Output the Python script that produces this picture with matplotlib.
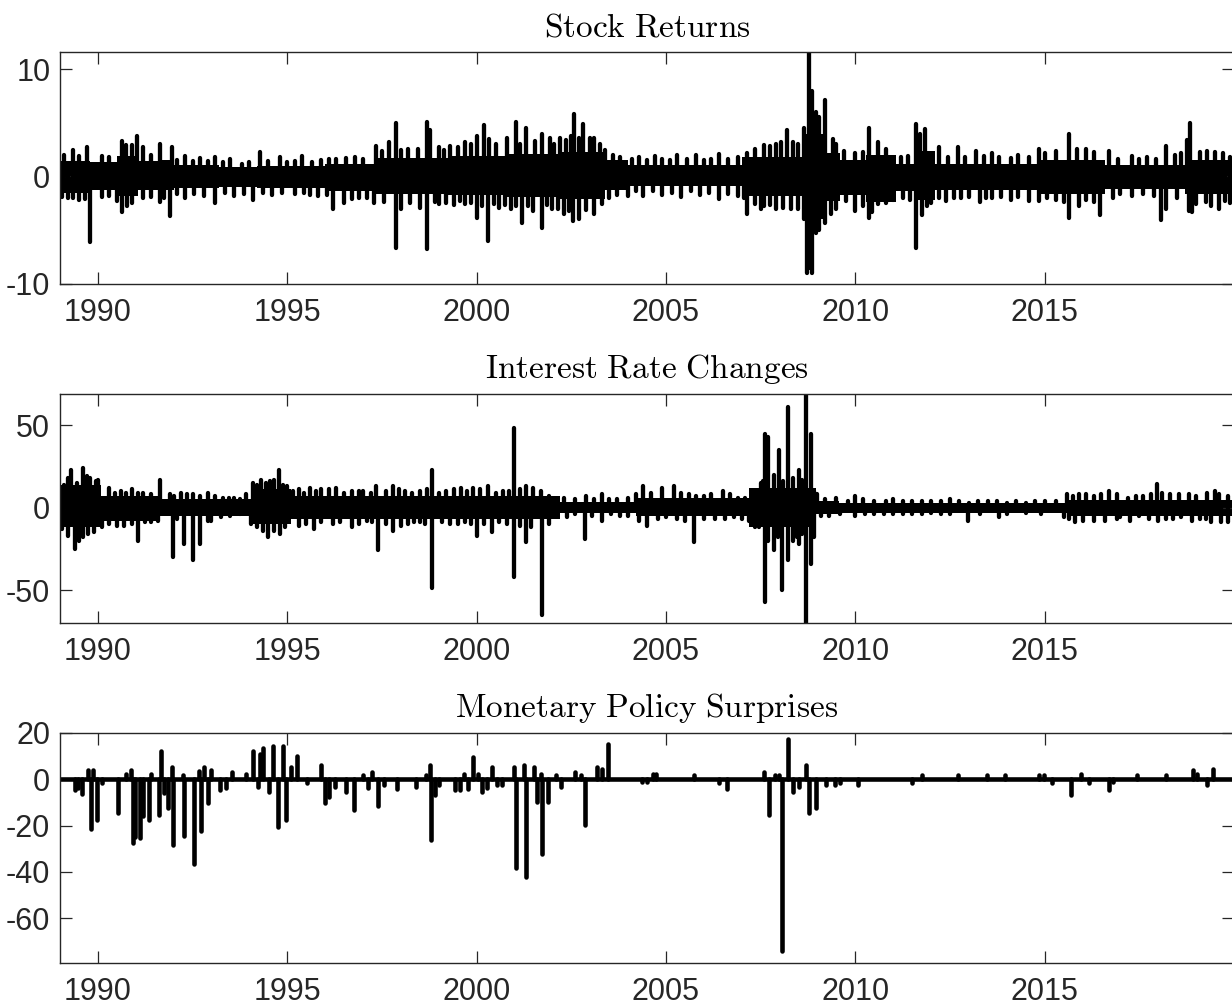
import numpy as np
import matplotlib.pyplot as plt

plt.rcParams['font.family'] = ['Liberation Sans', 'DejaVu Sans']
plt.rcParams['mathtext.fontset'] = 'cm'

# ---- Stock returns (daily, %)
# solid core of the series, piecewise by period (start year, upper, lower)
sr_seg_x = [1989.0, 1989.8, 1990.5, 1991.05, 1991.6, 1992.0, 1993.2, 1994.2, 1996.0, 1997.3,
            1999.25, 2000.75, 2002.2, 2003.4, 2004.0, 2007.0, 2008.6, 2009.2, 2009.6, 2010.27,
            2011.07, 2011.6, 2012.1, 2014.8, 2016.6, 2018.7]
sr_seg_hi = [1.4, 1.3, 1.9, 1.4, 1.5, 1.1, 0.9, 1.0, 1.2, 1.7,
             1.9, 2.1, 2.3, 1.5, 1.1, 1.8, 4.0, 2.2, 1.5, 2.0,
             1.2, 2.4, 1.2, 1.5, 1.1, 1.5]
sr_seg_lo = [-1.5, -1.3, -1.8, -1.3, -1.3, -1.1, -1.0, -1.1, -1.4, -1.6,
             -1.7, -1.9, -2.1, -1.3, -0.9, -1.8, -4.0, -2.3, -1.7, -2.4,
             -1.4, -2.2, -1.3, -1.6, -1.2, -1.6]

# visible excursions above / below the core
sr_up_x = [1989.1, 1989.35, 1989.7, 1990.1, 1990.64, 1990.9, 1991.04, 1991.2, 1991.65, 1991.96,
           1992.3, 1992.7, 1993.1, 1993.5, 1994.27, 1994.8, 1995.4, 1995.9, 1996.3, 1996.8,
           1997.35, 1997.7, 1997.86, 1998.2, 1998.7, 1998.77, 1999.0, 1999.3, 1999.7, 2000.0,
           2000.2, 2000.33, 2000.8, 2001.03, 2001.3, 2001.73, 2001.95, 2002.2, 2002.5, 2002.58,
           2002.8, 2003.0, 2003.1, 2003.4, 2003.8, 2004.3, 2004.7, 2005.3, 2005.8, 2006.4,
           2006.9, 2007.15, 2007.6, 2007.9, 2008.2, 2008.5, 2008.77, 2008.85, 2008.95, 2009.2,
           2009.4, 2009.5, 2010.0, 2010.35, 2010.6, 2011.6, 2011.7, 2011.85, 2012.2, 2012.7,
           2013.2, 2013.6, 2014.3, 2014.85, 2015.65, 2016.1, 2016.7, 2017.3, 2017.7, 2018.2,
           2018.75, 2018.83, 2019.3, 2019.5, 2019.9,
           1989.5, 1990.3, 1990.75, 1991.4, 1992.1, 1992.5, 1992.9, 1993.3, 1993.8, 1994.0,
           1994.5, 1995.0, 1995.2, 1995.65, 1996.1, 1996.55, 1997.0, 1997.5, 1998.0, 1998.45,
           1999.15, 1999.5, 1999.85, 2000.5, 2001.15, 2001.55, 2002.05, 2002.35, 2002.7, 2003.25,
           2003.6, 2004.1, 2004.5, 2004.9, 2005.1, 2005.55, 2006.0, 2006.2, 2006.65, 2007.35,
           2007.75, 2008.05, 2008.35, 2008.65, 2009.05, 2009.7, 2010.2, 2010.8, 2011.2, 2011.4,
           2012.0, 2012.45, 2012.9, 2013.4, 2013.8, 2014.1, 2014.6, 2015.0, 2015.3, 2015.85,
           2016.3, 2016.95, 2017.5, 2017.95, 2018.45, 2018.6, 2019.1, 2019.7]
sr_up_y = [2.0, 2.5, 2.7, 1.9, 3.3, 2.9, 3.8, 2.7, 3.0, 2.7,
           1.9, 1.7, 1.8, 1.6, 2.3, 1.8, 1.9, 1.5, 1.6, 1.8,
           2.8, 3.2, 5.0, 2.6, 5.1, 4.3, 2.7, 2.8, 3.2, 3.8,
           4.8, 3.5, 3.6, 5.1, 4.5, 4.0, 3.6, 3.6, 3.8, 5.8,
           4.9, 3.6, 3.6, 2.5, 1.8, 1.8, 1.9, 2.0, 2.0, 2.1,
           1.8, 2.2, 2.9, 3.0, 4.3, 3.0, 11.5, 8.0, 6.0, 7.1,
           3.5, 3.0, 2.2, 4.5, 3.2, 4.9, 4.0, 4.4, 2.7, 2.7,
           2.4, 2.2, 2.0, 2.6, 4.0, 2.6, 2.4, 1.9, 1.8, 2.8,
           3.4, 5.0, 2.4, 2.3, 1.8,
           1.9, 1.8, 2.9, 2.0, 1.5, 1.4, 1.4, 1.3, 1.2, 1.3,
           1.4, 1.3, 1.4, 1.3, 1.6, 1.7, 1.6, 2.4, 2.5, 2.6,
           2.5, 2.7, 3.0, 3.0, 3.0, 3.3, 3.0, 3.4, 3.6, 3.0,
           2.0, 1.6, 1.5, 1.6, 1.5, 1.6, 1.5, 1.6, 1.6, 2.6,
           2.8, 3.2, 3.2, 4.5, 5.5, 2.4, 2.3, 2.6, 1.8, 1.9,
           2.0, 1.8, 1.8, 1.9, 1.8, 1.7, 1.8, 2.2, 2.4, 2.6,
           2.3, 1.6, 1.6, 1.6, 2.0, 2.2, 2.3, 2.2]

sr_dn_x = [1989.2, 1989.5, 1989.8, 1990.1, 1990.64, 1990.77, 1991.2, 1991.65, 1991.9, 1992.3,
           1992.8, 1993.1, 1993.6, 1994.1, 1994.6, 1995.2, 1995.8, 1996.2, 1996.5, 1996.9,
           1997.3, 1997.86, 1998.0, 1998.5, 1998.7, 1999.0, 1999.4, 1999.7, 2000.0, 2000.3,
           2000.6, 2000.9, 2001.2, 2001.5, 2001.73, 2002.0, 2002.3, 2002.55, 2002.7, 2003.1,
           2003.5, 2004.0, 2004.4, 2004.9, 2005.4, 2005.9, 2006.4, 2006.9, 2007.15, 2007.5,
           2007.6, 2007.9, 2008.1, 2008.5, 2008.72, 2008.8, 2008.87, 2008.97, 2009.2, 2009.5,
           2010.0, 2010.35, 2010.6, 2011.0, 2011.6, 2011.75, 2012.0, 2012.4, 2012.8, 2013.3,
           2013.6, 2014.1, 2014.6, 2014.85, 2015.65, 2015.9, 2016.46, 2016.8, 2017.3, 2017.9,
           2018.08, 2018.2, 2018.8, 2018.9, 2019.4, 2019.6, 2019.9,
           1989.05, 1989.35, 1989.65, 1990.3, 1990.5, 1990.9, 1991.4, 1991.75, 1992.1, 1992.55,
           1993.35, 1993.85, 1994.35, 1994.85, 1995.45, 1995.6, 1996.05, 1996.7, 1997.1, 1997.55,
           1998.25, 1998.9, 1999.2, 1999.55, 1999.85, 2000.15, 2000.45, 2000.75, 2001.05, 2001.35,
           2001.85, 2002.15, 2002.45, 2002.9, 2003.3, 2003.7, 2004.2, 2004.65, 2005.15, 2005.65,
           2006.15, 2006.65, 2007.05, 2007.35, 2007.75, 2008.3, 2008.65, 2009.05, 2009.35, 2009.75,
           2010.2, 2010.45, 2010.8, 2011.25, 2011.45, 2011.9, 2012.2, 2012.6, 2013.0, 2013.45,
           2013.85, 2014.3, 2015.05, 2015.3, 2015.5, 2016.1, 2016.3, 2017.0, 2017.6, 2018.5,
           2019.0, 2019.25, 2019.75]
sr_dn_y = [-2.0, -2.2, -6.1, -1.9, -3.3, -2.8, -2.0, -2.4, -3.7, -2.0,
           -1.8, -2.5, -1.8, -2.2, -1.7, -1.6, -1.8, -3.0, -2.5, -2.0,
           -2.5, -6.7, -3.0, -2.9, -6.8, -2.6, -2.7, -2.6, -3.9, -6.0,
           -2.9, -3.0, -4.3, -3.2, -4.8, -3.0, -3.5, -4.2, -4.0, -3.5,
           -2.0, -1.8, -1.8, -1.7, -1.9, -1.7, -2.1, -1.8, -3.5, -3.0,
           -2.8, -3.0, -2.9, -3.0, -9.0, -8.5, -9.0, -5.3, -4.3, -3.0,
           -3.2, -3.9, -2.6, -2.2, -6.7, -3.6, -2.5, -2.3, -2.0, -2.4,
           -2.0, -2.2, -2.3, -2.3, -3.9, -2.8, -3.6, -2.0, -1.8, -1.8,
           -4.1, -3.0, -3.2, -3.3, -2.8, -3.0, -2.5,
           -1.9, -2.0, -2.1, -1.8, -2.3, -2.5, -1.9, -2.0, -1.6, -1.6,
           -1.5, -1.6, -1.5, -1.5, -1.5, -1.7, -1.7, -2.1, -2.0, -2.4,
           -2.5, -2.4, -2.5, -2.3, -2.5, -2.8, -2.6, -2.7, -2.8, -2.8,
           -2.7, -3.0, -3.2, -3.1, -2.6, -1.7, -1.4, -1.4, -1.5, -1.4,
           -1.5, -1.6, -2.0, -2.6, -2.7, -3.0, -4.0, -5.0, -3.5, -2.3,
           -2.8, -3.3, -2.5, -2.0, -2.2, -2.8, -2.0, -2.0, -1.9, -2.0,
           -1.9, -1.9, -2.0, -2.2, -2.4, -2.2, -2.4, -1.6, -1.6, -2.0,
           -2.6, -2.4, -2.3]

# ---- Interest rate changes (daily, bp)
ir_seg_x = [1989.0, 1990.08, 1991.6, 1994.05, 1995.1, 2002.2, 2004.2, 2007.2, 2008.95, 2009.57,
            2015.6]
ir_seg_hi = [14, 7, 5, 11, 7, 3.5, 6, 12, 4, 2.5, 4.5]
ir_seg_lo = [-12, -8, -5, -10, -7, -3, -5, -12, -4, -3, -5]

ir_up_x = [1989.1, 1989.3, 1989.45, 1989.6, 1989.8, 1990.0, 1990.3, 1990.6, 1990.9, 1991.2,
           1991.65, 1991.9, 1992.2, 1992.5, 1992.9, 1993.3, 1993.6, 1993.9, 1994.1, 1994.3,
           1994.55, 1994.78, 1995.0, 1995.3, 1995.6, 1995.9, 1996.3, 1996.7, 1997.0, 1997.35,
           1997.8, 1998.1, 1998.5, 1998.82, 1999.2, 1999.6, 1999.9, 2000.3, 2000.7, 2001.0,
           2001.3, 2001.5, 2001.9, 2002.3, 2002.9, 2003.3, 2003.7, 2004.0, 2004.4, 2004.9,
           2005.2, 2005.6, 2006.0, 2006.5, 2006.9, 2007.3, 2007.5, 2007.62, 2007.7, 2007.85,
           2007.99, 2008.21, 2008.35, 2008.51, 2008.71, 2008.82, 2009.0, 2009.5, 2010.0, 2010.5,
           2011.0, 2011.5, 2012.0, 2012.5, 2013.0, 2013.5, 2014.0, 2014.5, 2015.0, 2015.6,
           2015.9, 2016.3, 2016.7, 2017.2, 2017.6, 2017.97, 2018.3, 2018.8, 2019.3, 2019.6,
           2019.85,
           1989.2, 1989.7, 1989.95, 1990.45, 1990.75, 1991.05, 1991.4, 1992.0, 1992.35, 1992.7,
           1993.1, 1993.45, 1993.75, 1994.2, 1994.45, 1994.65, 1994.9, 1995.15, 1995.45, 1995.75,
           1996.1, 1996.5, 1996.9, 1997.2, 1997.6, 1997.95, 1998.3, 1998.7, 1999.0, 1999.4,
           1999.75, 2000.1, 2000.5, 2000.85, 2001.15, 2001.7, 2002.1, 2002.6, 2003.1, 2003.5,
           2004.2, 2004.6, 2005.4, 2005.8, 2006.2, 2006.7, 2007.1, 2007.55, 2008.1, 2008.6,
           2008.9, 2009.2, 2009.8, 2010.2, 2010.8, 2011.25, 2011.75, 2012.25, 2012.75, 2013.25,
           2013.75, 2014.25, 2014.75, 2015.3, 2015.75, 2016.1, 2016.5, 2016.9, 2017.4, 2017.8,
           2018.1, 2018.55, 2019.0, 2019.5]
ir_up_y = [14, 23, 15, 24, 18, 17, 12, 10, 11, 9,
           17, 8, 9, 8, 9, 6, 6, 8, 15, 17,
           16, 23, 13, 11, 12, 11, 12, 10, 10, 13,
           13, 10, 10, 23, 10, 12, 12, 13, 10, 48.5,
           13, 12, 7, 6, 7, 8, 5, 6, 13, 12,
           13, 8, 7, 10, 6, 7, 15, 44.5, 43, 20,
           35, 61, 18, 23, 75, 44.5, 8, 6, 7, 4,
           5, 4, 4, 5, 3, 4, 3, 3, 4, 8,
           8, 7, 10, 6, 7, 14.5, 8, 8, 9, 8,
           7,
           18, 19, 16, 9, 9, 9, 8, 7, 8, 7,
           7, 6, 5, 14, 15, 17, 14, 10, 9, 10,
           11, 9, 10, 9, 10, 11, 9, 11, 9, 11,
           10, 11, 9, 10, 11, 10, 5, 5, 5, 5,
           8, 9, 9, 7, 8, 8, 6, 16, 16, 17,
           10, 5, 4, 5, 4, 4, 4, 4, 4, 4,
           4, 4, 4, 4, 7, 8, 8, 8, 7, 8,
           9, 8, 7, 10]

ir_dn_x = [1989.05, 1989.4, 1989.6, 1989.9, 1990.3, 1990.7, 1991.07, 1991.4, 1991.98, 1992.28,
           1992.5, 1992.7, 1993.0, 1993.5, 1994.2, 1994.5, 1994.8, 1995.3, 1995.7, 1996.2,
           1996.7, 1997.1, 1997.4, 1997.8, 1998.2, 1998.5, 1998.82, 1999.3, 1999.7, 2000.0,
           2000.4, 2000.8, 2001.0, 2001.3, 2001.72, 2001.9, 2002.4, 2002.85, 2003.3, 2003.8,
           2004.5, 2005.0, 2005.73, 2006.3, 2006.8, 2007.2, 2007.45, 2007.62, 2007.85, 2008.07,
           2008.21, 2008.35, 2008.51, 2008.71, 2008.82, 2008.9, 2009.3, 2010.0, 2010.5, 2011.0,
           2011.5, 2012.0, 2012.97, 2013.8, 2014.5, 2015.5, 2015.8, 2016.6, 2017.0, 2017.5,
           2018.2, 2018.6, 2019.1, 2019.4, 2019.85,
           1989.2, 1989.5, 1989.75, 1990.1, 1990.5, 1990.9, 1991.25, 1991.6, 1992.1, 1992.9,
           1993.25, 1993.75, 1994.05, 1994.35, 1994.65, 1994.95, 1995.5, 1995.9, 1996.4, 1996.9,
           1997.25, 1997.6, 1998.0, 1998.35, 1998.65, 1999.1, 1999.5, 1999.85, 2000.2, 2000.6,
           2001.15, 2001.45, 2002.1, 2002.6, 2003.05, 2003.55, 2004.0, 2004.3, 2004.8, 2005.3,
           2005.5, 2006.0, 2006.55, 2007.0, 2007.35, 2007.7, 2007.95, 2008.45, 2008.6, 2009.1,
           2009.6, 2010.25, 2010.75, 2011.25, 2011.75, 2012.25, 2012.5, 2013.3, 2014.0, 2014.9,
           2015.65, 2016.0, 2016.3, 2016.9, 2017.25, 2017.75, 2018.0, 2018.4, 2018.9, 2019.25,
           2019.65]
ir_dn_y = [-13, -25, -18, -15, -10, -11, -20, -9, -30, -22,
           -32, -22, -8, -5, -12, -18, -16, -11, -13, -10,
           -12, -8, -26, -14, -10, -9, -49, -10, -9, -17,
           -15, -10, -42, -21, -65, -10, -6, -19, -8, -5,
           -11, -6, -21, -7, -6, -8, -12, -57.5, -26, -50,
           -32, -20, -22, -75, -34, -18, -5, -5, -4, -4,
           -4, -3, -8, -6, -3, -6, -9, -8, -6, -5,
           -7, -6, -7, -9, -9,
           -17, -20, -16, -12, -11, -10, -9, -8, -7, -8,
           -6, -4, -10, -14, -14, -12, -10, -9, -9, -10,
           -9, -10, -11, -9, -10, -9, -10, -10, -10, -9,
           -11, -12, -5, -4, -5, -4, -5, -8, -7, -7,
           -8, -7, -7, -7, -12, -20, -18, -18, -16, -5,
           -4, -4, -4, -4, -4, -4, -4, -4, -4, -4,
           -7, -8, -8, -7, -8, -7, -8, -7, -8, -7,
           -9]

# ---- Monetary policy surprises (bp, FOMC days)
mp_x = [1989.39, 1989.47, 1989.58, 1989.74, 1989.81, 1989.86, 1989.98, 1990.1, 1990.54, 1990.74,
        1990.87, 1990.94, 1990.99, 1991.11, 1991.19, 1991.34, 1991.39, 1991.62, 1991.66, 1991.75,
        1991.85, 1991.96, 1991.98, 1992.26, 1992.28, 1992.53, 1992.66, 1992.71, 1992.79, 1992.9,
        1993.0, 1993.23, 1993.39, 1993.54, 1993.9, 1994.1, 1994.24, 1994.29, 1994.37, 1994.52,
        1994.63, 1994.76, 1994.89, 1994.98, 1995.1, 1995.25, 1995.53, 1995.9, 1995.99, 1996.11,
        1996.26, 1996.55, 1996.75, 1997.0, 1997.13, 1997.25, 1997.4, 1997.55, 1997.9, 1998.41,
        1998.67, 1998.77, 1998.8, 1998.91, 1999.01, 1999.42, 1999.55, 1999.68, 1999.78, 1999.9,
        2000.03, 2000.13, 2000.28, 2000.4, 2000.53, 2000.68, 2000.99, 2001.04, 2001.24, 2001.31,
        2001.51, 2001.6, 2001.7, 2001.73, 2001.88, 2002.1, 2002.22, 2002.6, 2002.75, 2002.86,
        2003.19, 2003.31, 2003.48, 2004.36, 2004.51, 2004.67, 2004.75, 2005.73, 2006.4, 2006.6,
        2007.6, 2007.72, 2007.88, 2007.99, 2008.07, 2008.21, 2008.36, 2008.51, 2008.71, 2008.78,
        2008.97, 2009.22, 2009.47, 2009.6, 2010.08, 2011.5, 2011.75, 2012.71, 2013.47, 2013.96,
        2014.84, 2014.99, 2015.19, 2015.7, 2015.95, 2016.18, 2016.71, 2016.81, 2017.44, 2018.2,
        2018.93, 2019.01, 2019.29, 2019.44]
mp_y = [-4.7, -4.0, -6.4, 4.0, -21.3, 4.1, -17.5, -1.6, -14.6, 2.4,
        4.1, -27.5, -25.0, -25.3, -16.0, -17.5, 2.4, -15.4, 12.4, -5.8,
        -12.5, 5.3, -28.6, 2.0, -24.6, -36.7, 3.6, -22.5, 5.3, -10.4,
        4.1, -4.7, -4.0, 3.1, 2.4, 12.4, -3.3, 11.0, 13.5, -5.4,
        14.5, -20.6, 14.5, -17.5, 5.3, 10.2, -1.8, 6.3, -10.4, -7.5,
        -3.3, -5.4, -13.5, 1.7, -4.0, 3.1, -11.5, -2.6, -4.4, -3.3,
        1.7, 6.3, -26.3, -6.8, -2.6, -4.7, -4.7, 2.4, -4.4, 9.5,
        2.4, -5.4, -4.0, 5.3, -2.6, -2.6, 5.3, -38.5, 6.3, -42.4,
        5.3, -9.7, 2.4, -32.4, -9.7, 1.7, -3.3, 3.1, 2.0, -19.6,
        5.3, 4.6, 15.2, -1.4, -1.4, 2.4, 2.4, 1.7, -1.8, -4.4,
        3.1, -15.4, 1.7, 1.7, -74.4, 17.4, -5.4, -3.3, 6.3, -14.6,
        -12.5, -2.6, -2.6, -1.8, -2.6, -1.8, 1.7, 1.7, 1.7, 1.7,
        1.7, 1.7, -1.6, -6.8, 2.4, -1.6, -4.7, -1.4, 1.7, 1.7,
        3.8, 2.4, -2.6, 4.6]

x_ticks = [1990, 1995, 2000, 2005, 2010, 2015]
x_lim = (1989.0, 2020.0)

fig = plt.figure(figsize=(12.32, 10.08), dpi=100)
W, H = 1232.0, 1008.0


def make_ax(top_px, bottom_px):
    return fig.add_axes([60 / W, 1 - bottom_px / H, 1174 / W, (bottom_px - top_px) / H])


def style(ax, title, yticks, ylim):
    ax.set_xlim(*x_lim)
    ax.set_ylim(*ylim)
    ax.set_xticks(x_ticks)
    ax.set_yticks(yticks)
    ax.set_yticklabels([str(v) for v in yticks])
    ax.tick_params(direction='in', length=8.6, width=0.9, color='#262626',
                   labelcolor='#262626', labelsize=22, top=True, right=True)
    ax.tick_params(axis='x', pad=10)
    ax.tick_params(axis='y', pad=7)
    for s in ax.spines.values():
        s.set_color('#262626')
        s.set_linewidth(1.0)
    ax.set_title(r'$\mathrm{' + title.replace(' ', r'\ ') + '}$', fontsize=24, pad=11)


def draw_series(ax, seg_x, seg_hi, seg_lo, up_x, up_y, dn_x, dn_y):
    xs = seg_x + [x_lim[1]]
    ax.fill_between(xs, seg_lo + seg_lo[-1:], seg_hi + seg_hi[-1:], step='post',
                    color='k', lw=0)
    ax.vlines(up_x, 0, up_y, color='k', lw=lw, capstyle='round')
    ax.vlines(dn_x, 0, dn_y, color='k', lw=lw, capstyle='round')


lw = 3.1

ax1 = make_ax(52, 283.7)
draw_series(ax1, sr_seg_x, sr_seg_hi, sr_seg_lo, sr_up_x, sr_up_y, sr_dn_x, sr_dn_y)
style(ax1, 'Stock Returns', [-10, 0, 10], (-10, 11.6))

ax2 = make_ax(393.5, 622.7)
draw_series(ax2, ir_seg_x, ir_seg_hi, ir_seg_lo, ir_up_x, ir_up_y, ir_dn_x, ir_dn_y)
style(ax2, 'Interest Rate Changes', [-50, 0, 50], (-69.8, 69.2))

ax3 = make_ax(732.5, 962.7)
ax3.axhline(0, color='k', lw=3.3)
ax3.vlines(mp_x, 0, mp_y, color='k', lw=3.3, capstyle='round')
style(ax3, 'Monetary Policy Surprises', [-60, -40, -20, 0, 20], (-79.3, 20.2))

fig.savefig('out.png', dpi=100)
